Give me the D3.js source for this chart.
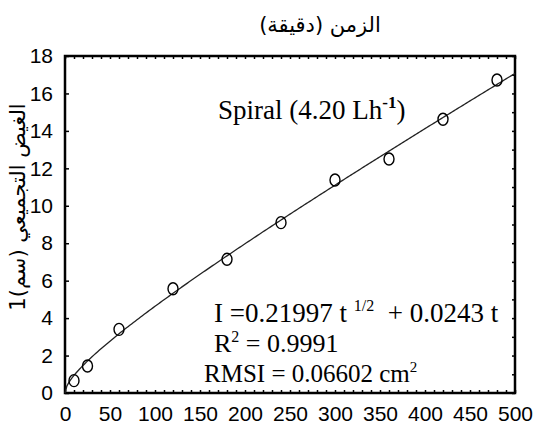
<!DOCTYPE html>
<html>
<head>
<meta charset="utf-8">
<script src="https://cdn.jsdelivr.net/npm/d3@7"></script>
<style>
  html, body { margin: 0; padding: 0; background: #fff; }
  svg { display: block; }
</style>
</head>
<body>
<svg id="chart" width="536" height="428"></svg>
<script>
// Measured cumulative infiltration (cm) against elapsed time (min)
const timeMin = [10, 25, 60, 120, 180, 240, 300, 360, 420, 480];
const infiltration = [0.66, 1.44, 3.40, 5.57, 7.14, 9.10, 11.38, 12.50, 14.62, 16.72];

// Fitted model I = a * t^(1/2) + b * t
const fitCoefficients = [0.21997, 0.0243];

const xTicks = [0, 50, 100, 150, 200, 250, 300, 350, 400, 450, 500];
const yTicks = [0, 2, 4, 6, 8, 10, 12, 14, 16, 18];
const xMinorTicks = d3.range(0, 501, 10);
const yMinorTicks = d3.range(0, 19, 1);

const svg = d3.select("#chart");
const plotLeft = 65, plotRight = 515, plotTop = 56, plotBottom = 393;

const x = d3.scaleLinear().domain([0, 500]).range([plotLeft, plotRight]);
const y = d3.scaleLinear().domain([0, 18]).range([plotBottom, plotTop]);

// Tick labels
const xAxis = svg.append("g")
  .attr("transform", `translate(0,${plotBottom})`)
  .call(d3.axisBottom(x).tickValues(xTicks).tickSize(0).tickPadding(13));
xAxis.select(".domain").remove();
xAxis.selectAll("text")
  .attr("font-family", "Liberation Sans, Arial, sans-serif")
  .attr("font-size", 21)
  .attr("fill", "#000");

const yAxis = svg.append("g")
  .attr("transform", `translate(${plotLeft},0)`)
  .call(d3.axisLeft(y).tickValues(yTicks).tickSize(0).tickPadding(12));
yAxis.select(".domain").remove();
yAxis.selectAll("text")
  .attr("font-family", "Liberation Sans, Arial, sans-serif")
  .attr("font-size", 21)
  .attr("fill", "#000");

// Inward tick marks on all four sides
function inward(g) {
  g.select(".domain").remove();
  g.selectAll("line").attr("stroke", "#000").attr("stroke-width", 1.5);
  g.selectAll("text").remove();
}
svg.append("g").attr("transform", `translate(0,${plotBottom})`)
  .call(d3.axisBottom(x).tickValues(xMinorTicks).tickSize(-3).tickFormat("")).call(inward);
svg.append("g").attr("transform", `translate(0,${plotTop})`)
  .call(d3.axisTop(x).tickValues(xMinorTicks).tickSize(-3).tickFormat("")).call(inward);
svg.append("g").attr("transform", `translate(${plotRight},0)`)
  .call(d3.axisRight(y).tickValues(yMinorTicks).tickSize(-3).tickFormat("")).call(inward);
svg.append("g").attr("transform", `translate(${plotLeft},0)`)
  .call(d3.axisLeft(y).tickValues(yTicks).tickSize(-4).tickFormat("")).call(inward);

// Plot frame
svg.append("rect")
  .attr("x", plotLeft).attr("y", plotTop)
  .attr("width", plotRight - plotLeft).attr("height", plotBottom - plotTop)
  .attr("fill", "none").attr("stroke", "#000").attr("stroke-width", 2.5);

// Fitted curve
const [a, b] = fitCoefficients;
const curveT = d3.range(0, 500.01, 2);
const line = d3.line()
  .x(t => x(t))
  .y(t => y(a * Math.sqrt(t) + b * t));
svg.append("path")
  .datum(curveT)
  .attr("d", line)
  .attr("fill", "none")
  .attr("stroke", "#222")
  .attr("stroke-width", 1.3);

// Observations
svg.append("g").selectAll("ellipse")
  .data(timeMin.map((t, i) => [t, infiltration[i]]))
  .join("ellipse")
  .attr("cx", d => x(d[0]))
  .attr("cy", d => y(d[1]))
  .attr("rx", 5)
  .attr("ry", 6)
  .attr("fill", "none")
  .attr("stroke", "#000")
  .attr("stroke-width", 1.4);

// Annotations
const serif = "Liberation Serif, Times New Roman, serif";

const spiral = svg.append("text")
  .attr("x", 218).attr("y", 119)
  .attr("font-family", serif).attr("font-size", 27).attr("fill", "#000");
spiral.append("tspan").text("Spiral (4.20 Lh");
spiral.append("tspan").attr("dy", -11).attr("font-size", 17).attr("font-weight", "bold").text("-1");
spiral.append("tspan").attr("dy", 11).text(")");

const eq = svg.append("text")
  .attr("x", 214).attr("y", 322)
  .attr("font-family", serif).attr("font-size", 27).attr("fill", "#000")
  .attr("xml:space", "preserve");
eq.append("tspan").text("I =0.21997 t ");
eq.append("tspan").attr("dy", -11).attr("font-size", 16).text("1/2");
eq.append("tspan").attr("dy", 11).text("  + 0.0243 t");

const r2 = svg.append("text")
  .attr("x", 214).attr("y", 352)
  .attr("font-family", serif).attr("font-size", 26).attr("fill", "#000");
r2.append("tspan").text("R");
r2.append("tspan").attr("dy", -10).attr("font-size", 16).text("2");
r2.append("tspan").attr("dy", 10).text(" = 0.9991");

const rmsi = svg.append("text")
  .attr("x", 204).attr("y", 382)
  .attr("font-family", serif).attr("font-size", 25).attr("fill", "#000");
rmsi.append("tspan").text("RMSI = 0.06602 cm");
rmsi.append("tspan").attr("dy", -10).attr("font-size", 15).text("2");

// Axis titles
const arabic = "DejaVu Sans, Noto Sans, sans-serif";
svg.append("text")
  .attr("x", 320).attr("y", 32)
  .attr("text-anchor", "middle")
  .attr("direction", "rtl")
  .attr("font-family", arabic).attr("font-size", 21).attr("fill", "#000")
  .text("الزمن (دقيقة)");

svg.append("text")
  .attr("transform", "translate(25,207) rotate(-90)")
  .attr("text-anchor", "middle")
  .attr("direction", "rtl")
  .attr("font-family", arabic).attr("font-size", 21).attr("fill", "#000")
  .text("الغيض التجميعي (سم)1");
</script>
</body>
</html>
